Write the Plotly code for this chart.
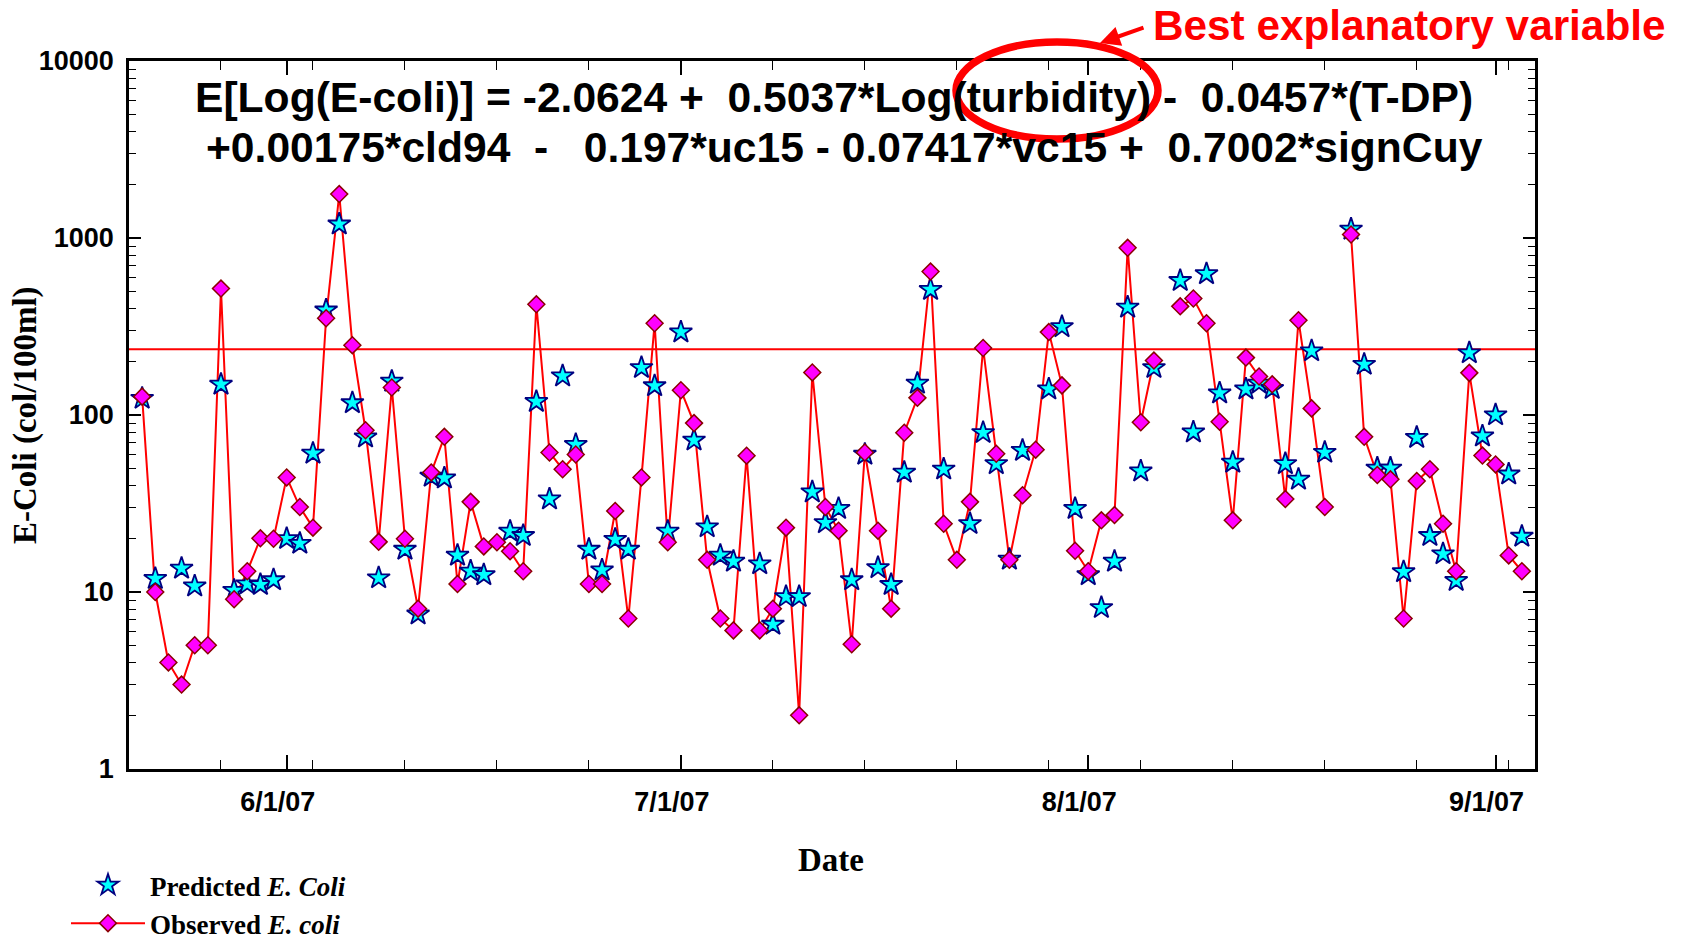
import pandas as pd
import plotly.graph_objects as go

# ---------------- data ----------------
dates = pd.date_range("2007-05-21", "2007-09-03", freq="D")

observed = [
    127, 10, 4.0, 3.0, 5.0, 5.0, 518, 9.1, 13.1, 20.1, 20,            # May 21-31
    44.4, 30.2, 23.1, 352, 1771, 248, 82, 19.2, 143, 20,               # Jun 1-10
    8.05, 47.4, 75.3, 11.1, 32.3, 18.1, 19.1, 17.0, 13.1, 422,         # Jun 11-20
    61.4, 49.4, 59.8, 11.1, 11.1, 28.7, 7.08, 44.4, 330, 19.1,         # Jun 21-30
    138, 90, 15.2, 7.08, 6.07, 58.9, 6.07, 8.05, 23.1, 2.01,           # Jul 1-10
    174, 30.2, 22.2, 5.07, 61.4, 22.2, 8.05, 79.4, 125, 646,           # Jul 11-20
    24.3, 15.2, 32.3, 239, 60.4, 15.2, 35.2, 63.7, 294, 147, 17.1,     # Jul 21-31
    13.1, 25.4, 27.2, 880, 91, 203, None, 411, 455, 330,               # Aug 1-10
    91.6, 25.4, 211, 165, 149, 33.5, 343, 109, 30.2, None,             # Aug 11-20
    1047, 75.3, 45.8, 43.3, 7.08, 42.4, 49.4, 24.3, 13.1, 173, 59,     # Aug 21-31
    52.6, 16.1, 13.1,                                                  # Sep 1-3
]

predicted = [
    124, 11.9, None, 13.6, 10.8, None, 149, 10.2, 11.1, 11.0, 11.7,    # May 21-31
    20.0, 18.8, 60.7, 391, 1197, 117, 75, 12.0, 155, 17.4,             # Jun 1-10
    7.5, 45, 44, 16.1, 13.1, 12.5, None, 22, 20.8, 119,                # Jun 11-20
    33.5, 166, 68, 17.4, 13.3, 19.8, 17.4, 185, 146, 22,               # Jun 21-30
    294, 72, 23.3, 16.1, 14.9, None, 14.4, 6.56, 9.4, 9.4,             # Jul 1-10
    36.7, 24.6, 29.6, 11.7, 59.9, 13.7, 11.0, 47.4, 151, 511,          # Jul 11-20
    49.4, None, 24.3, 79.4, 53, 15.3, 63, None, 140, 315, 29.6,        # Jul 21-31
    12.5, 8.15, 14.9, 406, 48.2, 185, None, 574, 80, 627,              # Aug 1-10
    133, 54, 140, 151, 141, 53, 43.3, 230, 61.4, None,                 # Aug 11-20
    1120, 193, 50, 50, 13.0, 74.6, 20.8, 16.4, 11.6, 224, 76,          # Aug 21-31
    100, 46.3, 20.6,                                                   # Sep 1-3
]

standard_value = 235
x_range = ["2007-05-20", "2007-09-04"]

month_ticks = ["2007-06-01", "2007-07-01", "2007-08-01", "2007-09-01"]
month_labels = ["6/1/07", "7/1/07", "8/1/07", "9/1/07"]
week_ticks = pd.date_range("2007-05-27", "2007-09-02", freq="7D")

y_ticks = [1, 10, 100, 1000, 10000]
y_labels = ["1", "10", "100", "1000", "10000"]
y_minor = [m * 10 ** e for e in range(4) for m in range(2, 10)]

eq_line1 = ("E[Log(E-coli)] = -2.0624 +\u00a0\u00a00.5037*Log(turbidity) -\u00a0\u00a0"
            "0.0457*(T-DP)")
eq_line2 = ("+0.00175*cld94\u00a0\u00a0-\u00a0\u00a0\u00a00.197*uc15 - 0.07417*vc15 +"
            "\u00a0\u00a00.7002*signCuy")

# ---------------- figure ----------------
W, H = 1681, 944
L, R, T, B = 129, 146, 61, 175
PW, PH = W - L - R, H - T - B


def px(x):
    return (x - L) / PW


def py(y):
    return (H - B - y) / PH


SANS = "Liberation Sans, Arial, sans-serif"
SERIF = "Liberation Serif, Times New Roman, serif"

fig = go.Figure()

# threshold line
fig.add_trace(go.Scatter(x=x_range, y=[standard_value, standard_value], mode="lines",
                         line=dict(color="#FF0000", width=2), showlegend=False,
                         hoverinfo="skip"))
# observed connecting line
fig.add_trace(go.Scatter(x=dates, y=observed, mode="lines",
                         line=dict(color="#FF0000", width=2), connectgaps=False,
                         showlegend=False))
# predicted stars
fig.add_trace(go.Scatter(x=dates, y=predicted, mode="markers", name="Predicted",
                         marker=dict(symbol="star", size=17, color="#00FFFF",
                                     line=dict(color="#000080", width=1.8)),
                         showlegend=False))
# observed diamonds
fig.add_trace(go.Scatter(x=dates, y=observed, mode="markers", name="Observed",
                         marker=dict(symbol="diamond", size=13, color="#FF00FF",
                                     line=dict(color="#8B0000", width=1.5)),
                         showlegend=False))

# legend entries
fig.add_trace(go.Scatter(x=[None], y=[None], mode="markers",
                         name="<b>Predicted <i>E. Coli</i></b>",
                         marker=dict(symbol="star", size=17, color="#00FFFF",
                                     line=dict(color="#000080", width=1.8))))
fig.add_trace(go.Scatter(x=[None], y=[None], mode="lines+markers",
                         name="<b>Observed <i>E. coli</i></b>",
                         line=dict(color="#FF0000", width=2),
                         marker=dict(symbol="diamond", size=13, color="#FF00FF",
                                     line=dict(color="#8B0000", width=1.5))))

fig.update_layout(
    width=W, height=H,
    margin=dict(l=L, r=R, t=T, b=B, autoexpand=False),
    plot_bgcolor="white", paper_bgcolor="white",
    showlegend=True,
    legend=dict(x=px(66), y=py(861), xanchor="left", yanchor="top",
                font=dict(family=SERIF, size=27, color="black"),
                itemwidth=74, tracegroupgap=0, bgcolor="rgba(0,0,0,0)"),
    xaxis=dict(type="date", range=x_range, tickmode="array", tickvals=month_ticks,
               ticktext=month_labels, ticks="inside", ticklen=14, tickwidth=1.5,
               tickcolor="black", showline=True, linecolor="black", linewidth=2.5,
               mirror="ticks", showgrid=False, zeroline=False,
               tickfont=dict(family=SANS, size=27, color="black", weight="bold"),
               ticklabelstandoff=7, ticklabelshift=-9,
               minor=dict(tickmode="array", tickvals=list(week_ticks), ticks="inside",
                          ticklen=9, tickwidth=1.2, tickcolor="black", showgrid=False)),
    yaxis=dict(type="log", range=[0, 4], tickmode="array", tickvals=y_ticks,
               ticktext=y_labels, ticks="inside", ticklen=12, tickwidth=1.5,
               tickcolor="black", showline=True, linecolor="black", linewidth=2.5,
               mirror="ticks", showgrid=False, zeroline=False,
               tickfont=dict(family=SANS, size=27, color="black", weight="bold"),
               ticklabelstandoff=7,
               minor=dict(tickmode="array", tickvals=y_minor, ticks="inside",
                          ticklen=7, tickwidth=1.2, tickcolor="black", showgrid=False)),
)

annotations = [
    dict(text=eq_line1, x=px(834), y=py(97), xref="paper", yref="paper",
         showarrow=False, xanchor="center", yanchor="middle",
         font=dict(family=SANS, size=42.6, color="black", weight="bold")),
    dict(text=eq_line2, x=px(844), y=py(147), xref="paper", yref="paper",
         showarrow=False, xanchor="center", yanchor="middle",
         font=dict(family=SANS, size=42.6, color="black", weight="bold")),
    dict(text="Best explanatory variable", x=px(1151), y=py(26), xref="paper",
         yref="paper", showarrow=False, xanchor="left", yanchor="middle",
         font=dict(family=SANS, size=42.3, color="#FF0000", weight="bold")),
    dict(text="", x=px(1100), y=py(43), xref="paper", yref="paper", showarrow=True,
         ax=45, ay=-16, arrowhead=2, arrowsize=1, arrowwidth=4, arrowcolor="#FF0000"),
    dict(text="<b>Date</b>", x=px(831), y=py(860), xref="paper", yref="paper",
         showarrow=False, xanchor="center", yanchor="middle",
         font=dict(family=SERIF, size=33, color="black")),
    dict(text="<b>E-Coli (col/100ml)</b>", x=px(25), y=py(415), xref="paper",
         yref="paper", showarrow=False, xanchor="center", yanchor="middle",
         textangle=-90, font=dict(family=SERIF, size=33, color="black")),
]
fig.update_layout(annotations=annotations)

fig.add_shape(type="circle", xref="paper", yref="paper",
              x0=px(956), x1=px(1158), y0=py(139), y1=py(42),
              line=dict(color="#FF0000", width=7.5), fillcolor="rgba(0,0,0,0)")

fig.write_html("out.html",
               config={"displayModeBar": False},
               post_script="document.body.style.margin='0';"
                           "document.body.style.overflow='hidden';")
